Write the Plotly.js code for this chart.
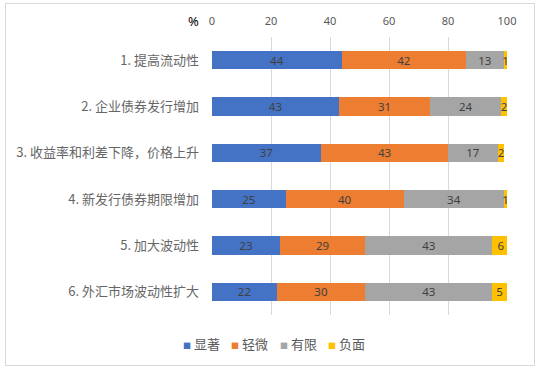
<!DOCTYPE html>
<html><head><meta charset="utf-8">
<script src="https://cdn.plot.ly/plotly-3.0.1.min.js"></script>
<style>
html,body{margin:0;padding:0;background:#fff;}
#wrap{position:relative;width:541px;height:370px;}
#chart{width:541px;height:370px;}
#frame{position:absolute;left:5px;top:3px;width:528px;height:361px;border:1px solid #D9D9D9;pointer-events:none;}
</style></head>
<body>
<div id="wrap"><div id="chart"></div><div id="frame"></div></div>
<script>
const categories = ["1. 提高流动性","2. 企业债券发行增加","3. 收益率和利差下降，价格上升","4. 新发行债券期限增加","5. 加大波动性","6. 外汇市场波动性扩大"];
const seriesNames = ["显著","轻微","有限","负面"];
const significant = [44,43,37,25,23,22];
const slight = [42,31,43,40,29,30];
const limited = [13,24,17,34,43,43];
const negative = [1,2,2,1,6,5];
const xTicks = [0,20,40,60,80,100];
const colors = ["#4472C4","#ED7D31","#A5A5A5","#FFC000"];
const seriesValues = [significant, slight, limited, negative];

const cjk = '"Noto Sans CJK SC", sans-serif';
const num = '"Noto Sans", "Noto Sans CJK SC", sans-serif';
const traces = seriesValues.map((vals, i) => ({
  type: 'bar', orientation: 'h', name: seriesNames[i],
  x: vals, y: categories,
  marker: {color: colors[i]},
  text: vals.map(String), textposition: 'inside', insidetextanchor: 'middle',
  textangle: 0, constraintext: 'none',
  textfont: {family: num, size: 11.5, color: '#404040'},
  hoverinfo: 'none', showlegend: false
}));

const plotL = 212, plotR = 507, plotT = 37, plotB = 315;
const pw = plotR - plotL, ph = plotB - plotT;
const px = x => (x - plotL) / pw;
const py = y => (plotB - y) / ph;

const legendAnn = seriesNames.map((n, i) => ({
  text: "<span style='font-size:8px;color:" + colors[i] + "'>■</span> " + n,
  xref: 'paper', yref: 'paper', x: px(181 + i * 48.3), y: py(343),
  xanchor: 'left', yanchor: 'middle', showarrow: false,
  font: {family: cjk, size: 13, color: '#595959'}
}));

const layout = {
  width: 541, height: 370,
  margin: {l: plotL, r: 541 - plotR, t: plotT, b: 370 - plotB},
  barmode: 'stack', bargap: 0.61,
  paper_bgcolor: '#fff', plot_bgcolor: '#fff',
  showlegend: false,
  font: {family: cjk, color: '#595959', size: 12},
  xaxis: {side: 'top', range: [0, 100], tickvals: xTicks, ticktext: xTicks.map(String),
    showgrid: true, gridcolor: '#D9D9D9', gridwidth: 1, zeroline: false, showline: false,
    ticks: '', ticklabelstandoff: 9, tickfont: {size: 11, color: '#595959', family: num}, fixedrange: true},
  yaxis: {autorange: 'reversed', showgrid: false, zeroline: false, showline: false, ticks: '',
    ticklabelstandoff: 12,
    tickfont: {size: 13, color: '#666666', family: cjk}, fixedrange: true},
  annotations: [{text: '%', xref: 'paper', yref: 'paper', x: px(193), y: py(21), xanchor: 'center', yanchor: 'middle',
    showarrow: false, font: {size: 13, color: '#000', family: num}}].concat(legendAnn)
};
Plotly.newPlot('chart', traces, layout, {displayModeBar: false, staticPlot: true});
</script>
</body></html>
